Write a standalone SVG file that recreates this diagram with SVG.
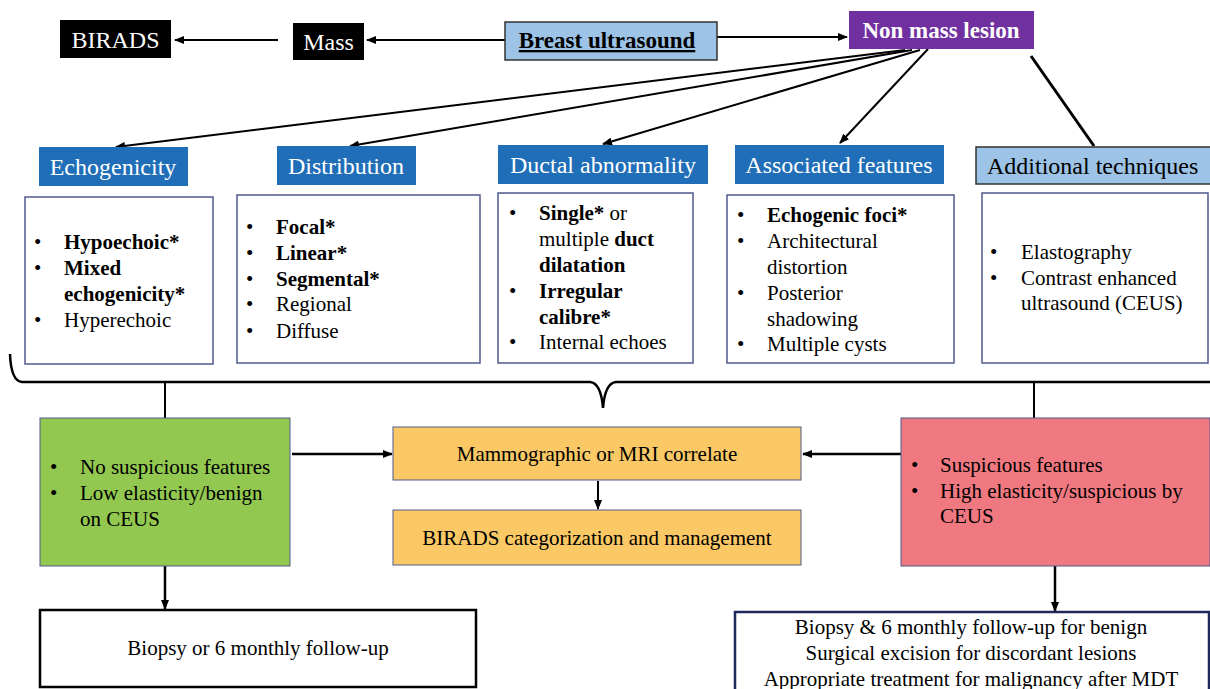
<svg xmlns="http://www.w3.org/2000/svg" width="1210" height="689" viewBox="0 0 1210 689" font-family="'Liberation Serif', 'Times New Roman', serif">
<defs>
<marker id="ah" markerWidth="10" markerHeight="8" refX="9" refY="4" orient="auto" markerUnits="userSpaceOnUse">
<path d="M0,0 L10,4 L0,8 Z" fill="#000"/>
</marker>
<style>
.hdr{font-size:24px;fill:#fff;text-anchor:middle}
.body{font-size:21px}
.b{font-weight:bold}
.c{text-anchor:middle}
.blue{fill:#1F6EB7}
.cbox{fill:#fff;stroke:#4F5A8E;stroke-width:1.5}
.conn{stroke:#000;stroke-width:2;fill:none}
.arr{stroke:#000;stroke-width:2;fill:none;marker-end:url(#ah)}
</style>
</defs>
<rect width="1210" height="689" fill="#fff"/>

<g id="connectors">
<line class="arr" x1="278" y1="40" x2="175" y2="40"/>
<line class="arr" x1="505" y1="40" x2="367" y2="40"/>
<line class="arr" x1="713" y1="37" x2="847" y2="37"/>
<line class="arr" x1="905" y1="50" x2="116" y2="147"/>
<line class="arr" x1="912" y1="50" x2="350" y2="146"/>
<line class="arr" x1="920" y1="50" x2="603" y2="144"/>
<line class="arr" x1="928" y1="49" x2="840" y2="143"/>
<line class="conn" x1="1031" y1="56" x2="1094" y2="146" style="stroke-width:3"/>
<path class="conn" d="M10,354 Q11,381 22,382 L590,382 Q601,383 603,408 Q605,383 616,382 L1210,382" style="stroke-width:2.5"/>
<line class="conn" x1="165" y1="382" x2="165" y2="418"/>
<line class="conn" x1="1034" y1="382" x2="1034" y2="418"/>
<line class="arr" x1="292" y1="454" x2="392" y2="454" style="stroke-width:2.5"/>
<line class="arr" x1="901" y1="454" x2="803" y2="454" style="stroke-width:2.5"/>
<line class="arr" x1="598" y1="481" x2="598" y2="509"/>
<line class="arr" x1="165" y1="566" x2="165" y2="609" style="stroke-width:2.5"/>
<line class="arr" x1="1055" y1="566" x2="1055" y2="611" style="stroke-width:2.5"/>
</g>

<g id="birads">
<rect x="60" y="20" width="111" height="38" fill="#000"/>
<text x="115.5" y="48" class="c" style="font-size:24px;fill:#fff">BIRADS</text>
</g>
<g id="mass">
<rect x="293" y="23" width="71" height="37" fill="#000"/>
<text x="328.5" y="50" class="c" style="font-size:24px;fill:#fff">Mass</text>
</g>
<g id="breast-ultrasound">
<rect x="505" y="22" width="212" height="38" fill="#9DC3E6" stroke="#333" stroke-width="1.5"/>
<text x="607" y="48" class="c b" style="font-size:23px;text-decoration:underline">Breast ultrasound</text>
</g>
<g id="non-mass-lesion">
<rect x="849" y="11" width="185" height="38" fill="#7030A0"/>
<text x="941" y="38" class="c b" style="font-size:23px;fill:#fff">Non mass lesion</text>
</g>

<g id="echogenicity">
<rect x="39" y="147" width="149" height="39" class="blue"/>
<text x="113" y="175" class="hdr">Echogenicity</text>
<rect x="25" y="197" width="188" height="167" class="cbox"/>
<g class="body">
<text x="34" y="249">•</text><text x="64" y="249" class="b">Hypoechoic*</text>
<text x="34" y="275">•</text><text x="64" y="275" class="b">Mixed</text>
<text x="64" y="301" class="b">echogenicity*</text>
<text x="34" y="327">•</text><text x="64" y="327">Hyperechoic</text>
</g>
</g>

<g id="distribution">
<rect x="277" y="146" width="139" height="39" class="blue"/>
<text x="346" y="174" class="hdr">Distribution</text>
<rect x="237" y="195" width="243" height="168" class="cbox"/>
<g class="body">
<text x="246" y="234">•</text><text x="276" y="234" class="b">Focal*</text>
<text x="246" y="260">•</text><text x="276" y="260" class="b">Linear*</text>
<text x="246" y="286">•</text><text x="276" y="286" class="b">Segmental*</text>
<text x="246" y="311">•</text><text x="276" y="311">Regional</text>
<text x="246" y="338">•</text><text x="276" y="338">Diffuse</text>
</g>
</g>

<g id="ductal-abnormality">
<rect x="498" y="145" width="210" height="39" class="blue"/>
<text x="603" y="173" class="hdr">Ductal abnormality</text>
<rect x="498" y="193" width="195" height="170" class="cbox"/>
<g class="body">
<text x="509" y="220">•</text><text x="539" y="220"><tspan class="b">Single*</tspan> or</text>
<text x="539" y="246">multiple <tspan class="b">duct</tspan></text>
<text x="539" y="272" class="b">dilatation</text>
<text x="509" y="298">•</text><text x="539" y="298" class="b">Irregular</text>
<text x="539" y="324" class="b">calibre*</text>
<text x="509" y="349">•</text><text x="539" y="349">Internal echoes</text>
</g>
</g>

<g id="associated-features">
<rect x="735" y="145" width="209" height="39" class="blue"/>
<text x="839" y="173" class="hdr">Associated features</text>
<rect x="727" y="195" width="227" height="168" class="cbox"/>
<g class="body">
<text x="737" y="222">•</text><text x="767" y="222" class="b">Echogenic foci*</text>
<text x="737" y="248">•</text><text x="767" y="248">Architectural</text>
<text x="767" y="274">distortion</text>
<text x="737" y="300">•</text><text x="767" y="300">Posterior</text>
<text x="767" y="326">shadowing</text>
<text x="737" y="351">•</text><text x="767" y="351">Multiple cysts</text>
</g>
</g>

<g id="additional-techniques">
<rect x="976" y="147" width="236" height="37" fill="#9DC3E6" stroke="#333" stroke-width="1.5"/>
<text x="987" y="174" style="font-size:24px">Additional techniques</text>
<rect x="982" y="193" width="226" height="170" class="cbox"/>
<g class="body">
<text x="990" y="259">•</text><text x="1021" y="259">Elastography</text>
<text x="990" y="285">•</text><text x="1021" y="285">Contrast enhanced</text>
<text x="1021" y="310">ultrasound (CEUS)</text>
</g>
</g>

<g id="no-suspicious">
<rect x="40" y="418" width="250" height="148" fill="#92C850" stroke="#4F5A8E" stroke-width="1"/>
<g class="body">
<text x="50" y="474">•</text><text x="80" y="474">No suspicious features</text>
<text x="50" y="500">•</text><text x="80" y="500">Low elasticity/benign</text>
<text x="80" y="526">on CEUS</text>
</g>
</g>

<g id="mammographic">
<rect x="393" y="427" width="408" height="53" fill="#FAC864" stroke="#4F5A8E" stroke-width="1"/>
<text x="597" y="461" class="body c">Mammographic or MRI correlate</text>
</g>

<g id="birads-categorization">
<rect x="393" y="510" width="408" height="55" fill="#FAC864" stroke="#4F5A8E" stroke-width="1"/>
<text x="597" y="545" class="body c">BIRADS categorization and management</text>
</g>

<g id="suspicious">
<rect x="901" y="418" width="309" height="148" fill="#F07880" stroke="#4F5A8E" stroke-width="1"/>
<g class="body">
<text x="911" y="472">•</text><text x="940" y="472">Suspicious features</text>
<text x="911" y="498">•</text><text x="940" y="498">High elasticity/suspicious by</text>
<text x="940" y="523">CEUS</text>
</g>
</g>

<g id="biopsy-followup">
<rect x="40" y="610" width="436" height="77" fill="#fff" stroke="#000" stroke-width="2.5"/>
<text x="258" y="655" class="body c">Biopsy or 6 monthly follow-up</text>
</g>

<g id="biopsy-excision">
<rect x="735" y="612" width="474" height="80" fill="#fff" stroke="#1F2A5A" stroke-width="2.5"/>
<g class="body c">
<text x="971" y="634">Biopsy &amp; 6 monthly follow-up for benign</text>
<text x="971" y="660">Surgical excision for discordant lesions</text>
<text x="971" y="686">Appropriate treatment for malignancy after MDT</text>
</g>
</g>
</svg>
